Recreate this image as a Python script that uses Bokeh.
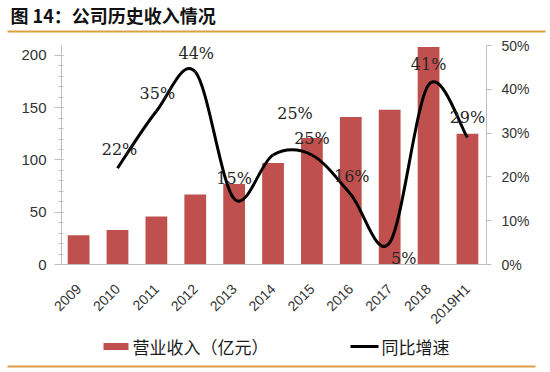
import math
from bokeh.plotting import figure
from bokeh.layouts import column, row
from bokeh.models import (Range1d, LinearAxis, FixedTicker, SingleIntervalTicker,
                          PrintfTickFormatter, Label, ColumnDataSource)
from bokeh.core.properties import value
from bokeh.embed import file_html
from bokeh.resources import INLINE

# ---------------- data ----------------
categories = ["2009", "2010", "2011", "2012", "2013", "2014", "2015",
              "2016", "2017", "2018", "2019H1"]
revenue = [28, 33, 46, 67, 77, 97, 121, 141, 148, 208, 125]          # 亿元
growth_years = ["2010", "2011", "2012", "2013", "2014", "2015",
                "2016", "2017", "2018", "2019H1"]
growth = [22, 35, 44, 15, 25, 25, 16, 5, 41, 29]                     # %
left_tick_step = 50
right_tick_step = 10
title_text = "图 14：公司历史收入情况"
legend_bar = "营业收入（亿元）"
legend_line = "同比增速"

# ---------------- style / layout ----------------
W = 550
H_TOP, H_MAIN, H_BOT = 35, 300, 37
FL, FR = 61, 486                 # frame left / right (px)
FT, FB = 10, 231                 # frame top / bottom inside main figure (px)
XL, XR = -0.44, 10.49
YT = 209.5
PT = 50
BAR_COLOR = "#C0504D"
AXIS_COLOR = "#BFBFBF"
TEXT_COLOR = "#333333"
ORANGE = "#DB9F45"
# label pixel offsets (dx, dy) relative to each growth point, per label
label_dx = [2, 1, 1, 0, 22, 0, 1, 14, 0, 0]
label_dy = [-19, -18, -18, -20, -42, -17, -18, 16, -20, -20]


def deco_fig(h):
    f = figure(width=W, height=h, x_range=Range1d(0, W), y_range=Range1d(0, h),
               output_backend="svg", toolbar_location=None,
               x_axis_type=None, y_axis_type=None,
               min_border=0, min_border_left=0, min_border_right=0,
               min_border_top=0, min_border_bottom=0)
    f.outline_line_color = None
    f.background_fill_color = "white"
    f.border_fill_color = "white"
    return f


# ---------------- top: title + rule ----------------
top = deco_fig(H_TOP)
top.add_layout(Label(x=10, y=H_TOP - 14, text=title_text,
                     text_font="Noto Sans CJK SC", text_font_size="18px",
                     text_font_style="bold", text_color="#111111",
                     text_baseline="middle", text_align="left"))
top.segment(x0=[7], y0=[H_TOP - 31], x1=[545], y1=[H_TOP - 31],
            line_color=ORANGE, line_width=2)

# ---------------- main chart ----------------
p = figure(width=W, height=H_MAIN, x_range=Range1d(XL, XR), y_range=Range1d(0, YT),
           output_backend="svg", toolbar_location=None,
           min_border_left=FL, min_border_right=W - FR,
           min_border_top=FT, min_border_bottom=H_MAIN - FB)
p.extra_y_ranges = {"pct": Range1d(0, PT)}
p.outline_line_color = None
p.xgrid.visible = False
p.ygrid.visible = False
p.background_fill_color = "white"
p.border_fill_color = "white"

idx = list(range(len(categories)))
bars = p.vbar(x=idx, top=revenue, width=0.56, fill_color=BAR_COLOR,
              line_color=None)

# smoothed growth line (Bezier segments built from the data points)
gx = [categories.index(y) for y in growth_years]
n = len(gx)
x0s, y0s, x1s, y1s, c0x, c0y, c1x, c1y = [], [], [], [], [], [], [], []
for i in range(n - 1):
    pa = (gx[max(i - 1, 0)], growth[max(i - 1, 0)])
    pb = (gx[i], growth[i])
    pc = (gx[i + 1], growth[i + 1])
    pd = (gx[min(i + 2, n - 1)], growth[min(i + 2, n - 1)])
    x0s.append(pb[0]); y0s.append(pb[1])
    x1s.append(pc[0]); y1s.append(pc[1])
    c0x.append(pb[0] + (pc[0] - pa[0]) / 6.0)
    c0y.append(pb[1] + (pc[1] - pa[1]) / 6.0)
    c1x.append(pc[0] - (pd[0] - pb[0]) / 6.0)
    c1y.append(pc[1] - (pd[1] - pb[1]) / 6.0)
p.bezier(x0=x0s, y0=y0s, x1=x1s, y1=y1s, cx0=c0x, cy0=c0y,
         cx1=c1x, cy1=c1y, line_color="black", line_width=3,
         y_range_name="pct")

lab_src = ColumnDataSource(dict(x=gx, y=growth, t=[f"{g}%" for g in growth],
                                dx=label_dx, dy=label_dy))
p.text(x="x", y="y", text="t", x_offset="dx", y_offset="dy", source=lab_src,
       y_range_name="pct", text_font=value("DejaVu Serif"),
       text_font_size="16px", text_color="#262626", text_align="center",
       text_baseline="middle")

la = p.yaxis[0]
la.ticker = SingleIntervalTicker(interval=left_tick_step, num_minor_ticks=5)
la.axis_line_color = AXIS_COLOR
la.major_tick_line_color = AXIS_COLOR
la.minor_tick_line_color = AXIS_COLOR
la.major_tick_out = 7
la.major_tick_in = 2
la.minor_tick_out = 3
la.minor_tick_in = 2
la.major_label_text_font = "Liberation Sans"
la.major_label_text_font_size = "15px"
la.major_label_text_color = TEXT_COLOR
la.major_label_standoff = 8

ra = LinearAxis(y_range_name="pct",
                ticker=SingleIntervalTicker(interval=right_tick_step, num_minor_ticks=0),
                formatter=PrintfTickFormatter(format="%d%%"))
ra.axis_line_color = AXIS_COLOR
ra.major_tick_line_color = AXIS_COLOR
ra.minor_tick_line_color = None
ra.major_tick_out = 5
ra.major_tick_in = 0
ra.major_label_text_font = "Liberation Sans"
ra.major_label_text_font_size = "14px"
ra.major_label_text_color = TEXT_COLOR
ra.major_label_standoff = 10
p.add_layout(ra, "right")

xa = p.xaxis[0]
xa.ticker = FixedTicker(ticks=idx)
xa.major_label_overrides = {i: c for i, c in zip(idx, categories)}
xa.major_label_orientation = math.pi / 4
xa.axis_line_color = AXIS_COLOR
xa.major_tick_line_color = None
xa.minor_tick_line_color = None
xa.major_label_text_font = "Liberation Sans"
xa.major_label_text_font_size = "14px"
xa.major_label_text_color = TEXT_COLOR
xa.major_label_standoff = 16

# ---------------- bottom: legend + rule ----------------
bot = deco_fig(H_BOT)
KEY_Y = H_BOT - 11               # legend centre line (px from bottom)
bot.quad(left=[103], right=[128], bottom=[KEY_Y - 3.5], top=[KEY_Y + 3.5],
         fill_color=BAR_COLOR, line_color=None)
bot.segment(x0=[350], y0=[KEY_Y], x1=[378], y1=[KEY_Y],
            line_color="black", line_width=3)
for lx, txt in ((132, legend_bar), (381, legend_line)):
    bot.add_layout(Label(x=lx, y=KEY_Y, text=txt, text_font="Noto Sans CJK SC",
                         text_font_size="17px", text_color="#1a1a1a",
                         text_baseline="middle", text_align="left"))
bot.segment(x0=[7], y0=[H_BOT - 31], x1=[535], y1=[H_BOT - 31],
            line_color=ORANGE, line_width=2)

layout = column(top, row(p), bot, spacing=0)
open("out.html", "w").write(file_html(layout, INLINE))
